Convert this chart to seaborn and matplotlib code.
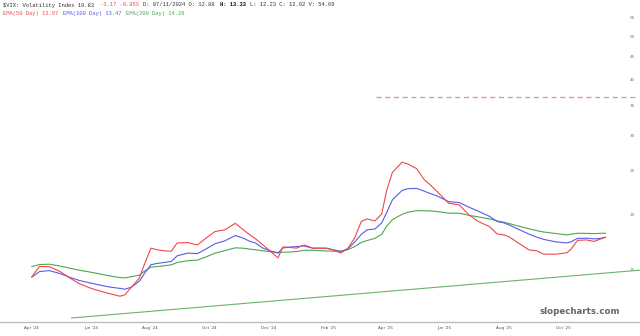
import matplotlib
matplotlib.use("Agg")
import matplotlib.pyplot as plt
import matplotlib.dates as mdates
import matplotlib.ticker as mticker
import seaborn as sns
import pandas as pd

# ---------------- data ----------------
dates = [
    "2024-04-01", "2024-04-09", "2024-04-19", "2024-04-30", "2024-05-10", "2024-05-20",
    "2024-05-31", "2024-06-10", "2024-06-20", "2024-07-01", "2024-07-06", "2024-07-13",
    "2024-07-21", "2024-07-26", "2024-08-02", "2024-08-09", "2024-08-16", "2024-08-23",
    "2024-08-29", "2024-09-09", "2024-09-19", "2024-09-28", "2024-10-07", "2024-10-17",
    "2024-10-28", "2024-11-05", "2024-11-12", "2024-11-18", "2024-11-25", "2024-12-04",
    "2024-12-11", "2024-12-16", "2024-12-23", "2024-12-30", "2025-01-07", "2025-01-16",
    "2025-01-23", "2025-01-30", "2025-02-07", "2025-02-14", "2025-02-21", "2025-02-28",
    "2025-03-07", "2025-03-13", "2025-03-21", "2025-03-28", "2025-04-02", "2025-04-08",
    "2025-04-18", "2025-04-24", "2025-05-03", "2025-05-11", "2025-05-16", "2025-05-24",
    "2025-06-05", "2025-06-16", "2025-06-26", "2025-07-06", "2025-07-17", "2025-07-25",
    "2025-08-01", "2025-08-06", "2025-08-15", "2025-08-27", "2025-09-04", "2025-09-11",
    "2025-09-24", "2025-10-05", "2025-10-09", "2025-10-16", "2025-10-25", "2025-11-02",
    "2025-11-08", "2025-11-14",
]
ema50 = [
    14.47, 15.27, 15.26, 14.89, 14.40, 13.98, 13.67, 13.46, 13.28, 13.10, 13.19, 13.74,
    14.38, 15.39, 16.78, 16.63, 16.55, 16.52, 17.24, 17.27, 17.06, 17.69, 18.28, 18.44,
    19.07, 18.47, 17.97, 17.60, 17.09, 16.46, 15.96, 16.89, 16.85, 16.78, 17.06, 16.78,
    16.78, 16.77, 16.59, 16.36, 16.76, 17.67, 19.26, 19.51, 19.31, 20.02, 22.54, 24.80,
    26.14, 25.89, 25.29, 23.86, 23.37, 22.49, 21.16, 20.97, 19.92, 19.24, 18.76, 18.06,
    17.97, 17.81, 17.29, 16.63, 16.55, 16.27, 16.27, 16.39, 16.67, 17.47, 17.51, 17.38,
    17.57, 17.76,
]
ema100 = [
    14.45, 14.87, 14.95, 14.73, 14.45, 14.21, 14.03, 13.88, 13.74, 13.64, 13.58, 13.73,
    14.15, 14.70, 15.41, 15.52, 15.59, 15.67, 16.13, 16.36, 16.32, 16.72, 17.17, 17.42,
    17.91, 17.68, 17.38, 17.23, 16.80, 16.53, 16.36, 16.80, 16.87, 16.92, 16.97, 16.78,
    16.78, 16.78, 16.63, 16.50, 16.72, 17.30, 18.03, 18.45, 18.52, 19.12, 20.13, 21.52,
    22.60, 22.80, 22.84, 22.51, 22.28, 21.97, 21.33, 21.23, 20.73, 20.28, 19.78, 19.25,
    19.12, 18.93, 18.54, 18.04, 17.76, 17.56, 17.33, 17.24, 17.33, 17.65, 17.67, 17.60,
    17.64, 17.76,
]
ema200 = [
    15.26, 15.42, 15.45, 15.31, 15.14, 14.98, 14.84, 14.70, 14.55, 14.42, 14.40, 14.49,
    14.60, 14.89, 15.22, 15.27, 15.33, 15.40, 15.59, 15.73, 15.78, 16.05, 16.35, 16.57,
    16.81, 16.78, 16.70, 16.64, 16.56, 16.47, 16.41, 16.43, 16.45, 16.49, 16.60, 16.60,
    16.57, 16.54, 16.51, 16.53, 16.65, 16.91, 17.29, 17.46, 17.65, 18.02, 18.78, 19.44,
    19.98, 20.19, 20.36, 20.35, 20.34, 20.27, 20.10, 20.10, 19.88, 19.71, 19.51, 19.33,
    19.18, 19.06, 18.83, 18.54, 18.37, 18.24, 18.09, 17.97, 18.03, 18.12, 18.11, 18.09,
    18.11, 18.13,
]
trend_dates = ["2024-05-12", "2025-12-22"]
trend_values = [11.71, 15.00]
level_value = 36.5
level_dates = ["2025-03-22", "2025-12-16"]
month_ticks = ["2024-04-01", "2024-06-01", "2024-08-01", "2024-10-01", "2024-12-01",
               "2025-02-01", "2025-04-01", "2025-06-01", "2025-08-01", "2025-10-01"]
month_labels = ["Apr '24", "Jun '24", "Aug '24", "Oct '24", "Dec '24",
                "Feb '25", "Apr '25", "Jun '25", "Aug '25", "Oct '25"]
y_ticks = [15, 20, 25, 30, 35, 40, 45, 50, 55]

# ---------------- figure ----------------
sns.set_theme(style="white")
plt.rcParams["font.family"] = ["DejaVu Sans"]

W, H = 640, 336
fig = plt.figure(figsize=(W / 100, H / 100), dpi=100)
ax = fig.add_axes([0, (H - 322) / H, 1, 322 / H])

df = pd.DataFrame({"date": pd.to_datetime(dates), "e50": ema50, "e100": ema100, "e200": ema200})
RED, BLUE, GREEN = "#f0474a", "#5a5ae8", "#4fa64f"
sns.lineplot(data=df, x="date", y="e200", ax=ax, color=GREEN, lw=0.8)
sns.lineplot(data=df, x="date", y="e100", ax=ax, color=BLUE, lw=0.8)
sns.lineplot(data=df, x="date", y="e50", ax=ax, color=RED, lw=0.8)

tdf = pd.DataFrame({"date": pd.to_datetime(trend_dates), "v": trend_values})
sns.lineplot(data=tdf, x="date", y="v", ax=ax, color="#6ab26a", lw=0.8)

ld = pd.to_datetime(level_dates)
ax.hlines(level_value, ld[0], ld[1], colors="#f28a8a", linestyles=(0, (4, 3)), lw=0.9)

ax.set_yscale("log")
ax.set_ylim(11.47, 60.3)
x0 = pd.Timestamp("2024-04-01")
ax.set_xlim(x0 - pd.Timedelta(days=32.7), x0 + pd.Timedelta(days=627.4))

ax.yaxis.set_major_locator(mticker.FixedLocator(y_ticks))
ax.yaxis.set_major_formatter(mticker.FixedFormatter([str(v) for v in y_ticks]))
ax.yaxis.set_minor_locator(mticker.NullLocator())
ax.tick_params(axis="y", left=False, labelleft=False, right=False, labelright=True,
               pad=-7.5, labelsize=3.0, labelcolor="#777777", length=0)

ax.set_xticks(pd.to_datetime(month_ticks))
ax.set_xticklabels(month_labels)
ax.xaxis.set_minor_locator(mticker.NullLocator())
ax.tick_params(axis="x", bottom=False, labelsize=3.0, labelcolor="#44506a", pad=3, length=0)

ax.set_xlabel("")
ax.set_ylabel("")
for s in ["top", "left", "right"]:
    ax.spines[s].set_visible(False)
ax.spines["bottom"].set_color("#bdbdbd")
ax.spines["bottom"].set_linewidth(1.0)
ax.grid(False)

# ---------------- header text ----------------
fs = 4.0
cw = 0.6 * fs * 100 / 72  # px per monospace char
mono = ["Liberation Mono", "DejaVu Sans Mono"]

def put(idx, line_y, s, color, weight="normal"):
    fig.text((3 + idx * cw) / W, 1 - line_y / H, s, family=mono, fontsize=fs,
             color=color, weight=weight, va="center", ha="left")

put(0, 5, "$VIX: Volatility Index 19.83", "#333333")
put(29, 5, "-3.17 -0.85%", RED)
put(42, 5, "D: 07/11/2024 O: 12.88", "#333333")
put(65, 5, "H: 13.33", "#111111", weight="bold")
put(74, 5, "L: 12.23 C: 12.92 V: 54.69", "#333333")

put(0, 13.5, "EMA(50 Day) 12.97", RED)
put(18, 13.5, "EMA(100 Day) 13.47", BLUE)
put(37, 13.5, "EMA(200 Day) 14.29", GREEN)

fig.text(620 / W, 1 - 311 / H, "slopecharts.com", fontsize=6.2, weight="bold",
         color="#666666", ha="right", va="center", family=["DejaVu Sans"])

fig.savefig("out.png", dpi=100)
